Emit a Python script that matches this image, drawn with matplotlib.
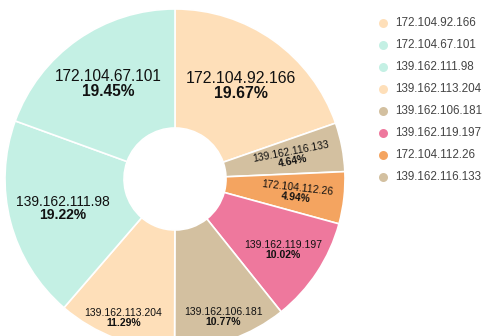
import numpy as np
import matplotlib
matplotlib.use("Agg")
import matplotlib.pyplot as plt

plt.rcParams['font.family'] = ['Liberation Sans', 'DejaVu Sans']

# slices, clockwise from 12 o'clock
hosts = ['172.104.92.166', '139.162.116.133', '172.104.112.26', '139.162.119.197',
         '139.162.106.181', '139.162.113.204', '139.162.111.98', '172.104.67.101']
shares = [19.67, 4.64, 4.94, 10.02, 10.77, 11.29, 19.22, 19.45]
colors = ['#FEDFB9', '#D3C0A0', '#F4A460', '#EE789D',
          '#D3C0A0', '#FEDFB9', '#C4F0E4', '#C4F0E4']

legend_order = ['172.104.92.166', '172.104.67.101', '139.162.111.98', '139.162.113.204',
                '139.162.106.181', '139.162.119.197', '172.104.112.26', '139.162.116.133']

# label placement (fraction of radius) and font size in pt
label_r = [0.67, 0.70, 0.72, 0.76, 0.86, 0.87, 0.68, 0.68]
label_fs = [11.4, 7.5, 7.5, 7.5, 7.5, 7.5, 10.0, 11.2]

W, H = 485, 336
fig = plt.figure(figsize=(W / 100, H / 100), dpi=100)

cx, cy, R = 175, 179, 170
ax = fig.add_axes([(cx - R) / W, (H - cy - R) / H, 2 * R / W, 2 * R / H])
ax.pie(shares, colors=colors, startangle=90, counterclock=False, radius=1,
       wedgeprops=dict(width=0.7, edgecolor='white', linewidth=1.2))
ax.set_xlim(-1, 1)
ax.set_ylim(-1, 1)
ax.set_aspect('equal')
ax.axis('off')

start = 90.0
for host, pct, r, fs in zip(hosts, shares, label_r, label_fs):
    mid = start - pct * 3.6 / 2
    start -= pct * 3.6
    a = np.deg2rad(mid)
    x, y = r * np.cos(a), r * np.sin(a)
    rot = mid if pct < 6 else 0  # thin slices get radial text
    gap = fs * 0.48
    dx, dy = np.sin(np.deg2rad(rot)) * gap, np.cos(np.deg2rad(rot)) * gap
    ax.annotate(host, (x, y), xytext=(-dx, dy), textcoords='offset points',
                ha='center', va='center', fontsize=fs, rotation=rot,
                rotation_mode='anchor', color='#111')
    ax.annotate(f'{pct:.2f}%', (x, y), xytext=(dx, -dy), textcoords='offset points',
                ha='center', va='center', fontsize=fs, rotation=rot,
                rotation_mode='anchor', fontweight='bold', color='#111')

# legend drawn in pixel coordinates
lax = fig.add_axes([0, 0, 1, 1], zorder=3)
lax.set_xlim(0, W)
lax.set_ylim(H, 0)
lax.axis('off')
col_of = dict(zip(hosts, colors))
for i, host in enumerate(legend_order):
    y = 23 + i * 22
    lax.scatter([383], [y], s=42, color=col_of[host], linewidths=0)
    lax.text(395, y, host, ha='left', va='center', fontsize=8.4, color='#444')

fig.savefig('out.png', dpi=100)
